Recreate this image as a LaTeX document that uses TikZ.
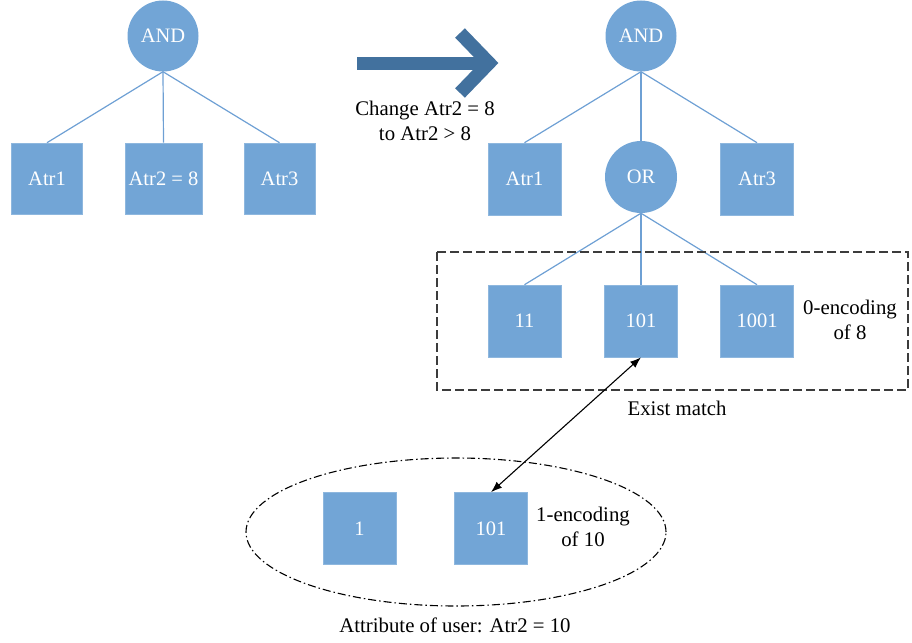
\documentclass[tikz,border=0pt]{standalone}
\usepackage{fontspec}
\setmainfont{Liberation Serif}
\usetikzlibrary{arrows.meta}
\definecolor{boxblue}{RGB}{114,165,214}
\definecolor{linkblue}{RGB}{110,160,212}
\definecolor{bigarrow}{RGB}{66,113,158}
\definecolor{dashgray}{RGB}{60,60,60}
\tikzset{
  sq/.style={fill=boxblue, draw=boxblue!80!white, line width=0.6pt, minimum width=71pt, minimum height=71pt, inner sep=0pt, text=white, font=\fontsize{20.5}{24}\selectfont},
  gate/.style={circle, fill=boxblue, minimum size=71pt, inner sep=0pt, text=white, font=\fontsize{20.5}{24}\selectfont},
  link/.style={draw=linkblue, line width=1.2pt},
  lbl/.style={font=\fontsize{20.8}{25}\selectfont, align=center, inner sep=0pt, text=black}
}
\begin{document}
\begin{tikzpicture}[x=1pt,y=-1pt]
\useasboundingbox (0,0) rectangle (912,642);
% left tree
\node[gate] (andL) at (163,36) {AND};
\node[sq] (l1) at (47,178.5) {Atr1};
\node[sq, minimum width=77pt] (l2) at (163.5,178.5) {Atr2 = 8};
\node[sq] (l3) at (279.5,178.5) {Atr3};
\draw[link] (andL.south) -- (l1.north);
\draw[link] (andL.south) -- (l2.north);
\draw[link] (andL.south) -- (l3.north);
% big arrow
\coordinate (sh1) at (357,63.5);
\coordinate (sh2) at (484,63.5);
\coordinate (chA) at (460,33);
\coordinate (chV) at (489,63);
\coordinate (chB) at (460,93);
\draw[bigarrow, line width=13.5pt] (sh1) -- (sh2);
\draw[bigarrow, line width=13.5pt, miter limit=10] (chA) -- (chV) -- (chB);
\node[lbl] (chg) at (425,121) {Change Atr2 = 8\\to Atr2 > 8};
% right tree
\node[gate] (andR) at (641,36) {AND};
\node[sq, minimum width=73pt, minimum height=72pt] (r1) at (524.5,179) {Atr1};
\node[gate, minimum size=72pt] (orR) at (641,177) {OR};
\node[sq, minimum width=73pt, minimum height=72pt] (r3) at (757,179) {Atr3};
\draw[link] (andR.south) -- (r1.north);
\draw[link] (andR.south) -- (orR.north);
\draw[link] (andR.south) -- (r3.north);
% 0-encoding
\node[sq, minimum width=73pt, minimum height=72pt] (m11) at (524.5,321) {11};
\node[sq, minimum width=73pt, minimum height=72pt] (m101) at (641,321) {101};
\node[sq, minimum width=73pt, minimum height=72pt] (m1001) at (757,321) {1001};
\draw[link] (orR.south) -- (m11.north);
\draw[link] (orR.south) -- (m101.north);
\draw[link] (orR.south) -- (m1001.north);
\node[lbl] (zenc) at (850,320) {0-encoding\\of 8};
\draw[dashgray, line width=1.4pt, dash pattern=on 9pt off 4pt] (437,252) rectangle (908,390);
\node[lbl] (exist) at (677,408) {Exist match};
% user attributes
\draw[black, line width=1.1pt, dash pattern=on 8pt off 3pt on 1.5pt off 3pt] (456,532) ellipse [x radius=210pt, y radius=74pt];
\node[sq, minimum width=73pt, minimum height=72pt] (u1) at (359.5,528.5) {1};
\node[sq, minimum width=73pt, minimum height=72pt] (u101) at (491,528.5) {101};
\node[lbl] (oenc) at (583,527) {1-encoding\\of 10};
\node[lbl] (attr) at (455,625) {Attribute of user: Atr2 = 10};
\draw[black, line width=1.1pt, {Latex[length=11pt,width=8pt]}-{Latex[length=11pt,width=8pt]}] (m101.south) -- (u101.north);
\end{tikzpicture}
\end{document}
